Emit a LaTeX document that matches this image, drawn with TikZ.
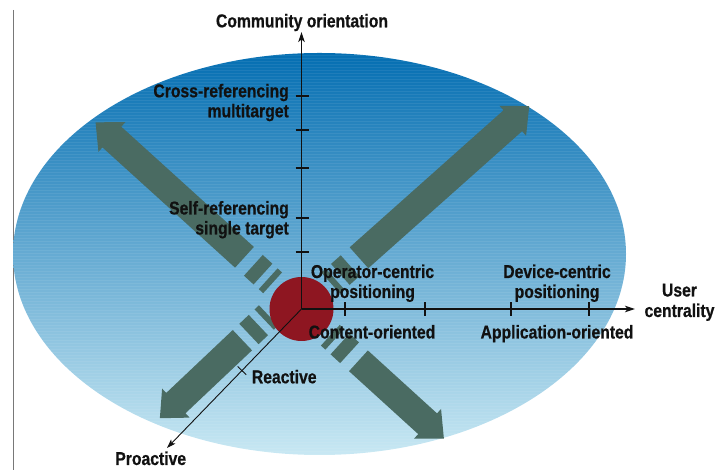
\documentclass[tikz,border=0pt]{standalone}
\usepackage{fontspec}
\newfontfamily\lab[FakeStretch=0.845, BoldFeatures={FakeBold=0.6}]{Liberation Sans}
\usetikzlibrary{arrows.meta,calc}
\definecolor{arrowgreen}{RGB}{74,107,98}
\definecolor{dotred}{RGB}{142,22,33}
\definecolor{skytop}{RGB}{4,110,178}
\definecolor{skymid}{RGB}{52,145,204}
\definecolor{skybot}{RGB}{200,232,243}
\definecolor{inkblack}{RGB}{17,17,17}
\definecolor{framegray}{RGB}{120,120,120}
\newcommand\fatdasharrow[6]{%
 \begin{scope}[shift={#1},rotate=#2]
  \fill[arrowgreen] (#3,-14) rectangle ++(6,28);
  \fill[arrowgreen] (#4,-14) rectangle ++(13,28);
  \fill[arrowgreen] (#5,-14) -- ({#6-22},-14) -- ({#6-22},-20) -- (#6,0)
     -- ({#6-22},20) -- ({#6-22},14) -- (#5,14) -- cycle;
 \end{scope}}
\tikzset{
  lbl/.style={font={\lab\bfseries\fontsize{18.6pt}{20pt}\selectfont}, text=inkblack, inner sep=0pt},
  axisline/.style={draw=inkblack, line width=1.2pt, -{Stealth[length=10pt,width=6.5pt,inset=2.5pt]}},
  diagline/.style={draw=inkblack, line width=0.9pt, -{Stealth[length=9pt,width=6pt,inset=2.2pt]}},
  axtick/.style={draw=inkblack, line width=1.1pt}
}
\begin{document}
\begin{tikzpicture}[x=1pt,y=1pt]
\useasboundingbox (0,0) rectangle (717,470);
% left frame line
\draw[framegray, line width=1pt] (13,460) -- (13,0);
% background ellipse
\shade[top color=skytop, middle color=skymid, bottom color=skybot]
  (319.5,216) ellipse [x radius=306.5pt, y radius=201pt];
\begin{scope}
  \clip (319.5,216) ellipse [x radius=306.5pt, y radius=201pt];
  \foreach \yy in {16,19,...,418}
    \draw[white, opacity=0.07, line width=0.8pt] (10,\yy) -- (630,\yy);
\end{scope}
% coordinates
\coordinate (O) at (301.5,161);
\coordinate (Ytip) at (301.5,438);
\coordinate (Xtip) at (635,161);
\coordinate (Ptip) at (167,22);
\coordinate (SWo) at (288.9,173.8);
% big arrows
\fatdasharrow{(O)}{41.7}{39}{52}{77}{305}
\fatdasharrow{(O)}{137.8}{39}{52}{77}{278}
\fatdasharrow{(O)}{-42.3}{39}{52}{77}{192.5}
\fatdasharrow{(SWo)}{223.4}{28}{42}{64}{177.6}
% red disc
\fill[dotred] (O) circle [radius=32pt];
% axes
\draw[axisline] (O) -- (Ytip);
\draw[axisline] (O) -- (Xtip);
\draw[diagline] (O) -- (Ptip);
\foreach \yy in {374,340,302,252,218}
  \draw[axtick] (295.5,\yy) -- (308.5,\yy);
\foreach \xx in {345,425,511,589}
  \draw[axtick] (\xx,154) -- (\xx,168);
\coordinate (T) at ($(O)!0.443!(Ptip)$);
\draw[line width=0.9pt, inkblack] ($(T)!6pt!90:(Ptip)$) -- ($(T)!6pt!-90:(Ptip)$);
% labels
\node[lbl, anchor=base] (comm) at (302,442.7) {Community orientation};
\node[lbl, anchor=base east] (cross1) at (289,372.7) {Cross-referencing};
\node[lbl, anchor=base east] (cross2) at (289,352.7) {multitarget};
\node[lbl, anchor=base east] (self1) at (289,255.5) {Self-referencing};
\node[lbl, anchor=base east] (self2) at (289,235.5) {single target};
\node[lbl, anchor=base] (op1) at (372.5,192) {Operator-centric};
\node[lbl, anchor=base] (op2) at (372.5,172) {positioning};
\node[lbl, anchor=base] (dev1) at (557,192) {Device-centric};
\node[lbl, anchor=base] (dev2) at (557,172) {positioning};
\node[lbl, anchor=base] (user1) at (679.5,173.5) {User};
\node[lbl, anchor=base] (user2) at (679.5,153) {centrality};
\node[lbl, anchor=base] (cont) at (372,131.5) {Content-oriented};
\node[lbl, anchor=base] (app) at (557,131.5) {Application-oriented};
\node[lbl, anchor=base west] (react) at (251.7,86.7) {Reactive};
\node[lbl, anchor=base] (pro) at (150.7,5) {Proactive};
\end{tikzpicture}
\end{document}
